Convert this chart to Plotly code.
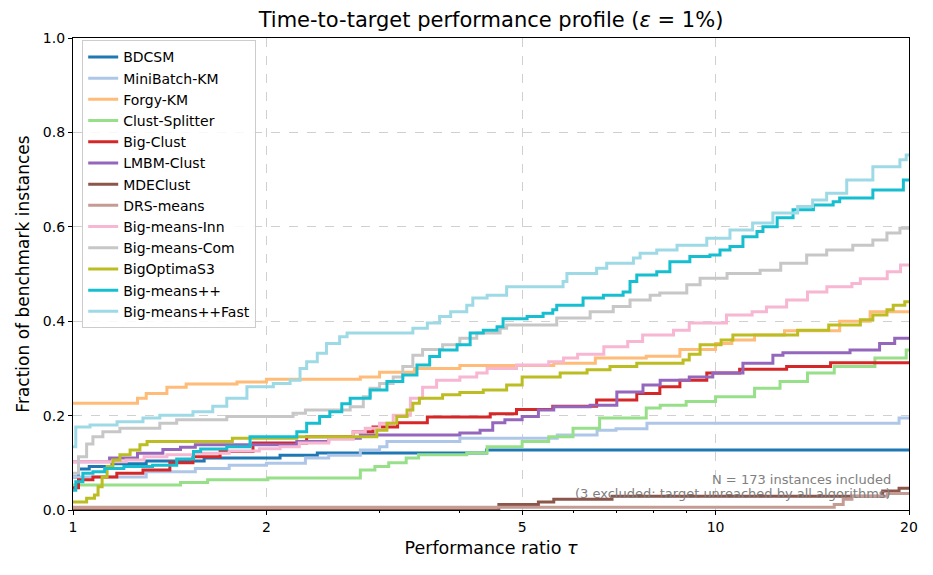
import plotly.graph_objects as go

# ---------------- data (tau breakpoints, fraction of instances) ----------------
bdcsm_tau = [1, 1.02, 1.06, 1.15, 1.3, 1.6, 2.1, 2.4, 4.4, 20]
bdcsm_frac = [0.07, 0.087, 0.092, 0.098, 0.104, 0.11, 0.116, 0.121, 0.127, 0.127]

minibatch_tau = [1, 1.3, 1.55, 1.75, 2.0, 2.3, 2.5, 2.8, 3.0, 3.08, 4.0, 5.67, 6.54, 7.0, 7.82, 19.3, 20]
minibatch_frac = [0.07, 0.081, 0.088, 0.095, 0.099, 0.11, 0.116, 0.127, 0.134, 0.145, 0.152, 0.159, 0.169, 0.172, 0.184, 0.195, 0.195]

forgy_tau = [1, 1.26, 1.3, 1.4, 1.5, 1.8, 2.0, 2.8, 3.0, 3.4, 4.0, 5.6, 6.5, 7.8, 8.8, 10.0, 10.6, 11.5, 12.8, 15.6, 17.4, 20]
forgy_frac = [0.226, 0.237, 0.247, 0.26, 0.267, 0.271, 0.277, 0.282, 0.292, 0.30, 0.306, 0.311, 0.322, 0.326, 0.34, 0.353, 0.36, 0.371, 0.38, 0.40, 0.42, 0.42]

splitter_tau = [1, 1.47, 1.62, 2.01, 2.8, 2.95, 3.1, 3.3, 3.45, 4.1, 4.41, 5.0, 5.5, 6.0, 6.6, 7.8, 8.2, 9.0, 10.0, 11.5, 12.6, 13.9, 15.3, 17.7, 19.8, 20]
splitter_frac = [0.053, 0.058, 0.064, 0.068, 0.085, 0.092, 0.1, 0.11, 0.117, 0.121, 0.134, 0.145, 0.155, 0.173, 0.195, 0.216, 0.222, 0.23, 0.24, 0.258, 0.272, 0.29, 0.304, 0.322, 0.339, 0.339]

bigclust_tau = [1, 1.02, 1.074, 1.17, 1.285, 1.415, 1.537, 1.694, 1.906, 2.31, 2.73, 2.93, 3.2, 3.56, 4.46, 4.9, 5.58, 6.53, 7.54, 8.19, 8.8, 9.69, 10.9, 12.9, 15.1, 20]
bigclust_frac = [0.047, 0.064, 0.07, 0.078, 0.085, 0.1, 0.113, 0.124, 0.142, 0.155, 0.166, 0.176, 0.185, 0.197, 0.204, 0.213, 0.22, 0.233, 0.247, 0.261, 0.275, 0.29, 0.298, 0.304, 0.312, 0.312]

lmbm_tau = [1, 1.14, 1.26, 1.38, 1.47, 1.55, 2.23, 2.5, 2.8, 4.0, 4.3, 4.5, 4.7, 5.0, 5.3, 5.6, 6.38, 7.02, 7.71, 8.2, 9.1, 9.9, 11.03, 12.28, 12.73, 16.19, 18.0, 19.0, 20]
lmbm_frac = [0.102, 0.11, 0.12, 0.128, 0.133, 0.138, 0.145, 0.152, 0.159, 0.163, 0.169, 0.185, 0.191, 0.198, 0.212, 0.219, 0.222, 0.25, 0.265, 0.275, 0.282, 0.29, 0.311, 0.328, 0.333, 0.339, 0.353, 0.364, 0.364]

mde_tau = [1, 4.6, 5.3, 5.6, 6.9, 18.2, 19.3, 20]
mde_frac = [0.0, 0.0116, 0.017, 0.023, 0.029, 0.04, 0.046, 0.046]

drs_tau = [1, 15.3, 15.8, 16.3, 18.5, 20]
drs_frac = [0.0058, 0.0116, 0.023, 0.029, 0.035, 0.035]

inn_tau = [1, 1.21, 1.29, 1.4, 1.54, 1.75, 1.95, 2.1, 2.25, 2.5, 2.73, 2.85, 3.0, 3.15, 3.35, 3.5, 3.68, 4.0, 4.25, 4.41, 4.9, 5.5, 5.8, 6.1, 6.7, 7.3, 7.7, 8.6, 9.1, 10.4, 11.4, 12.0, 12.9, 13.9, 14.9, 16.3, 16.8, 18.5, 19.4, 20]
inn_frac = [0.102, 0.106, 0.113, 0.117, 0.12, 0.125, 0.13, 0.134, 0.142, 0.15, 0.166, 0.173, 0.184, 0.201, 0.237, 0.26, 0.275, 0.282, 0.29, 0.30, 0.307, 0.314, 0.322, 0.33, 0.346, 0.357, 0.371, 0.381, 0.396, 0.413, 0.42, 0.43, 0.445, 0.462, 0.473, 0.48, 0.49, 0.505, 0.519, 0.519]

com_tau = [1, 1.02, 1.05, 1.074, 1.113, 1.183, 1.365, 1.45, 1.735, 2.2, 2.3, 2.7, 2.83, 2.9, 3.0, 3.15, 3.26, 3.38, 3.5, 3.76, 4.0, 4.25, 4.62, 4.73, 5.66, 6.38, 6.93, 7.36, 7.91, 8.19, 9.02, 9.46, 10.42, 11.73, 12.63, 13.86, 14.89, 16.35, 17.57, 18.48, 19.36, 20]
com_frac = [0.078, 0.113, 0.14, 0.155, 0.166, 0.173, 0.184, 0.191, 0.198, 0.205, 0.212, 0.219, 0.24, 0.258, 0.268, 0.282, 0.304, 0.328, 0.34, 0.35, 0.364, 0.375, 0.385, 0.392, 0.407, 0.42, 0.431, 0.445, 0.455, 0.46, 0.477, 0.491, 0.501, 0.508, 0.523, 0.54, 0.551, 0.561, 0.572, 0.587, 0.597, 0.6]

optima_tau = [1, 1.05, 1.08, 1.094, 1.11, 1.13, 1.154, 1.183, 1.227, 1.271, 1.304, 1.77, 2.23, 2.97, 3.08, 3.19, 3.31, 3.38, 3.46, 3.76, 4.0, 4.35, 4.73, 5.0, 5.73, 6.31, 6.85, 7.54, 8.9, 9.1, 9.46, 10.2, 10.64, 13.42, 15.0, 16.8, 17.57, 18.48, 18.9, 19.7, 20]
optima_frac = [0.017, 0.025, 0.032, 0.049, 0.07, 0.092, 0.106, 0.117, 0.127, 0.138, 0.145, 0.152, 0.155, 0.169, 0.184, 0.198, 0.212, 0.226, 0.237, 0.244, 0.249, 0.254, 0.265, 0.282, 0.29, 0.297, 0.304, 0.311, 0.318, 0.33, 0.35, 0.36, 0.371, 0.381, 0.392, 0.403, 0.413, 0.424, 0.434, 0.441, 0.441]

bmpp_tau = [1, 1.01, 1.036, 1.074, 1.12, 1.2, 1.33, 1.45, 1.54, 1.58, 1.735, 1.886, 2.23, 2.31, 2.42, 2.51, 2.62, 2.7, 2.9, 3.08, 3.26, 3.43, 3.59, 3.72, 3.96, 4.15, 4.35, 4.57, 4.67, 5.09, 5.39, 5.58, 5.66, 6.22, 6.69, 7.18, 7.36, 7.54, 8.1, 8.49, 9.12, 9.8, 10.16, 10.53, 11.03, 11.6, 11.85, 12.47, 13.2, 14.2, 15.24, 15.6, 17.57, 19.6, 20]
bmpp_frac = [0.042, 0.06, 0.078, 0.081, 0.088, 0.092, 0.095, 0.108, 0.124, 0.129, 0.134, 0.155, 0.166, 0.184, 0.198, 0.208, 0.225, 0.237, 0.254, 0.272, 0.286, 0.307, 0.325, 0.339, 0.35, 0.375, 0.381, 0.388, 0.405, 0.41, 0.417, 0.424, 0.434, 0.449, 0.455, 0.462, 0.484, 0.498, 0.505, 0.526, 0.537, 0.54, 0.551, 0.558, 0.579, 0.59, 0.60, 0.619, 0.636, 0.646, 0.653, 0.661, 0.678, 0.699, 0.699]

fast_tau = [1, 1.01, 1.063, 1.171, 1.285, 1.365, 1.537, 1.65, 1.735, 1.865, 2.05, 2.177, 2.256, 2.31, 2.4, 2.48, 2.6, 2.67, 3.38, 3.56, 3.72, 3.87, 4.1, 4.19, 4.41, 4.73, 5.79, 5.87, 6.53, 6.77, 7.45, 7.63, 8.1, 8.71, 9.69, 10.53, 11.42, 12.28, 13.42, 14.16, 14.89, 16.0, 17.57, 19.36, 19.8, 20]
fast_frac = [0.134, 0.176, 0.18, 0.187, 0.195, 0.201, 0.208, 0.22, 0.237, 0.261, 0.268, 0.275, 0.30, 0.314, 0.332, 0.353, 0.367, 0.375, 0.385, 0.396, 0.41, 0.42, 0.434, 0.449, 0.455, 0.473, 0.484, 0.501, 0.512, 0.523, 0.534, 0.544, 0.551, 0.561, 0.576, 0.593, 0.608, 0.629, 0.643, 0.657, 0.671, 0.699, 0.727, 0.742, 0.752, 0.752]

names = ["BDCSM", "MiniBatch-KM", "Forgy-KM", "Clust-Splitter", "Big-Clust", "LMBM-Clust",
         "MDEClust", "DRS-means", "Big-means-Inn", "Big-means-Com", "BigOptimaS3",
         "Big-means++", "Big-means++Fast"]
taus = [bdcsm_tau, minibatch_tau, forgy_tau, splitter_tau, bigclust_tau, lmbm_tau,
        mde_tau, drs_tau, inn_tau, com_tau, optima_tau, bmpp_tau, fast_tau]
fracs = [bdcsm_frac, minibatch_frac, forgy_frac, splitter_frac, bigclust_frac, lmbm_frac,
         mde_frac, drs_frac, inn_frac, com_frac, optima_frac, bmpp_frac, fast_frac]
colors = ["#1f77b4", "#aec7e8", "#ffbb78", "#98df8a", "#d62728", "#9467bd",
          "#8c564b", "#c49c94", "#f7b6d2", "#c7c7c7", "#bcbd22", "#17becf", "#9edae5"]

x_major = [1, 2, 5, 10, 20]
x_minor = [3, 4, 6, 7, 8, 9]
y_ticks = [0.0, 0.2, 0.4, 0.6, 0.8, 1.0]

note_line1 = "N = 173 instances included"
note_line2 = "(3 excluded: target unreached by all algorithms)"

FONT = "DejaVu Sans"

fig = go.Figure()
for n, t, f, c in zip(names, taus, fracs, colors):
    fig.add_trace(go.Scatter(x=t, y=f, mode="lines", name=n,
                             line=dict(color=c, width=3, shape="hv")))

fig.update_layout(
    width=933, height=575,
    margin=dict(l=73, r=24, t=38, b=65),
    plot_bgcolor="white", paper_bgcolor="white",
    font=dict(family=FONT, size=14, color="black"),
    title=dict(text="Time-to-target performance profile (<i>ε</i> = 1%)",
               x=(73 + 909) / 2 / 933, xanchor="center", y=1 - 20 / 575, yanchor="middle",
               font=dict(size=21)),
    legend=dict(x=0.011, y=0.995, xanchor="left", yanchor="top",
                bgcolor="rgba(255,255,255,0.85)", bordercolor="#cccccc", borderwidth=1,
                font=dict(size=14), tracegroupgap=0),
    showlegend=True,
)

fig.update_xaxes(
    type="log", range=[0, 1.30103],
    tickvals=x_major, ticktext=[str(v) for v in x_major],
    ticks="outside", ticklen=4, tickwidth=1, tickcolor="black",
    showline=True, linecolor="black", linewidth=1.2, mirror=True,
    showgrid=True, gridcolor="#d0d0d0", griddash="dash", gridwidth=1,
    minor=dict(tickvals=x_minor, ticks="outside", ticklen=2, tickcolor="black", showgrid=False),
    title=dict(text="Performance ratio <i>τ</i>", font=dict(size=17.5), standoff=7),
    tickfont=dict(size=14), zeroline=False,
)
fig.update_yaxes(
    range=[0, 1.0], tickvals=y_ticks, ticktext=[f"{v:.1f}" for v in y_ticks],
    ticks="outside", ticklen=4, tickwidth=1, tickcolor="black",
    showline=True, linecolor="black", linewidth=1.2, mirror=True,
    showgrid=True, gridcolor="#d0d0d0", griddash="dash", gridwidth=1,
    title=dict(text="Fraction of benchmark instances", font=dict(size=17), standoff=8),
    tickfont=dict(size=14), zeroline=False,
)

fig.add_annotation(
    xref="paper", yref="paper", x=0.981, y=0.0636, xanchor="right", yanchor="middle",
    text=note_line1, showarrow=False, font=dict(size=13, color="#808080"),
)
fig.add_annotation(
    xref="paper", yref="paper", x=0.981, y=0.034, xanchor="right", yanchor="middle",
    text=note_line2, showarrow=False, font=dict(size=13, color="#808080"),
)

fig.write_html("out.html")
